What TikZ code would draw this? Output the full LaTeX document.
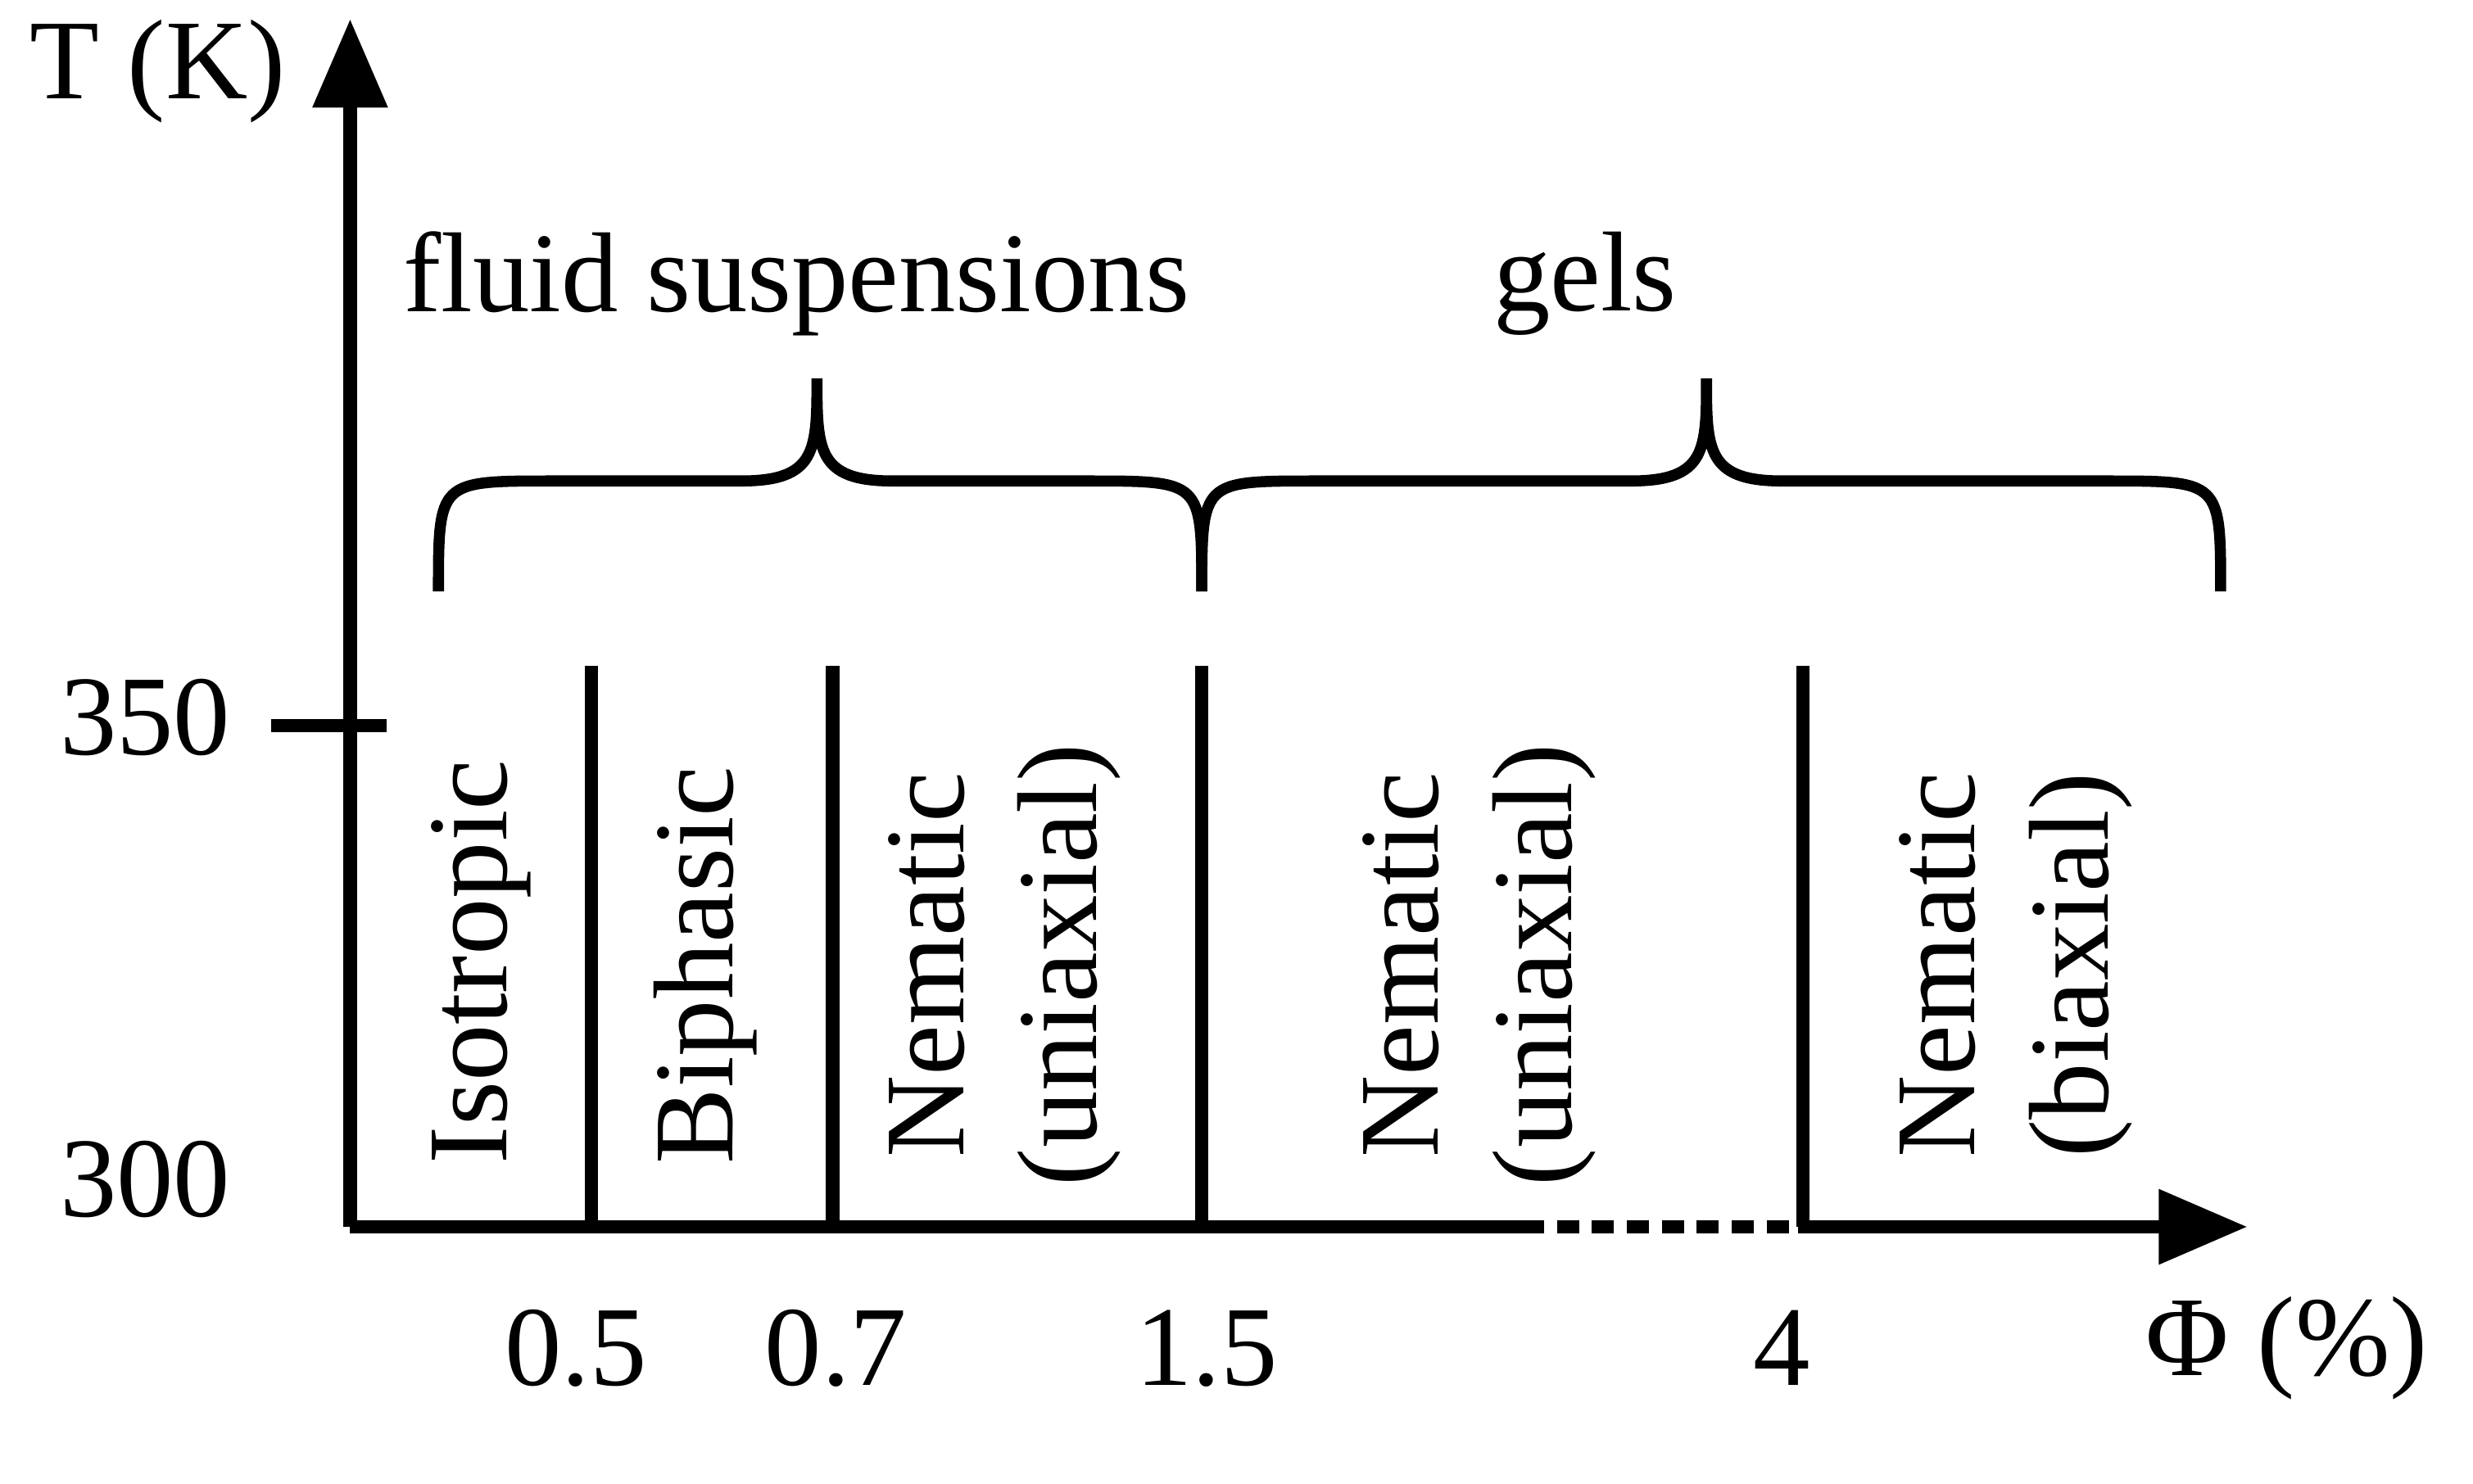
\documentclass[tikz,border=0pt]{standalone}
\usepackage{fontspec}
\setmainfont{Liberation Serif}
\usetikzlibrary{arrows.meta}
\tikzstyle{axis} = [line width=2.4pt,-{Triangle[length=16pt,width=13pt]}]
\tikzstyle{wall} = [line width=2.4pt]
\tikzstyle{lab} = [font=\fontsize{20.5}{24}\selectfont]
\tikzstyle{phase} = [lab,rotate=90,align=center]
\begin{document}
\begin{tikzpicture}[x=0.01cm,y=-0.01cm]
            \useasboundingbox (0,0) rectangle (1568,941);
            % axes
            \coordinate (O) at (222,778);
            \coordinate (Ytop) at (222,12);
            \coordinate (D1) at (965,778);
            \coordinate (D2) at (1140,778);
            \coordinate (Xend) at (1425,778);
            \draw[axis] (O) -- (Ytop);
            \draw[wall] (O) -- (D1);
            \draw[wall, dash pattern=on 4pt off 2.3pt] (D1) -- (D2);
            \draw[axis] (D2) -- (Xend);
            \coordinate (t1) at (172,460);
            \coordinate (t2) at (245,460);
            \draw[wall] (t1) -- (t2);

            \node[lab] (TK) at (100,45) {T (K)};
            \node[lab] (y350) at (92,455) {350};
            \node[lab] (y300) at (92,748) {300};

            % phase boundaries
            \foreach \x/\n in {375/a,528/b,762/c,1143/d}{
                \coordinate (\n top) at (\x,422);
                \coordinate (\n bot) at (\x,778);
                \draw[wall] (\n top) -- (\n bot);
            }

            \node[phase] (iso) at (305,610) {Isotropic};
            \node[phase] (bip) at (447,612) {Biphasic};
            \node[phase] (nu1) at (637,612) {Nematic\\(uniaxial)};
            \node[phase] (nu2) at (938,612) {Nematic\\(uniaxial)};
            \node[phase] (nb) at (1278,612) {Nematic\\(biaxial)};

            % braces
            \draw[line width=2pt] (278,375) .. controls (278,305) .. (350,305) -- (470,305)
                .. controls (518,305) and (518,285) .. (518,240)
                .. controls (518,285) and (518,305) .. (566,305) -- (690,305)
                .. controls (762,305) .. (762,375);
            \draw[line width=2pt] (762,375) .. controls (762,305) .. (834,305) -- (1034,305)
                .. controls (1082,305) and (1082,285) .. (1082,240)
                .. controls (1082,285) and (1082,305) .. (1130,305) -- (1336,305)
                .. controls (1408,305) .. (1408,375);
            \node[lab] (fluid) at (505,180) {fluid suspensions};
            \node[lab] (gels) at (1005,180) {gels};

            % x labels
            \node[lab] (x05) at (365,855) {0.5};
            \node[lab] (x07) at (530,855) {0.7};
            \node[lab] (x15) at (765,855) {1.5};
            \node[lab] (x4) at (1130,855) {4};
            \node[lab] (phi) at (1450,855) {Φ (\%)};
\end{tikzpicture}
\end{document}
